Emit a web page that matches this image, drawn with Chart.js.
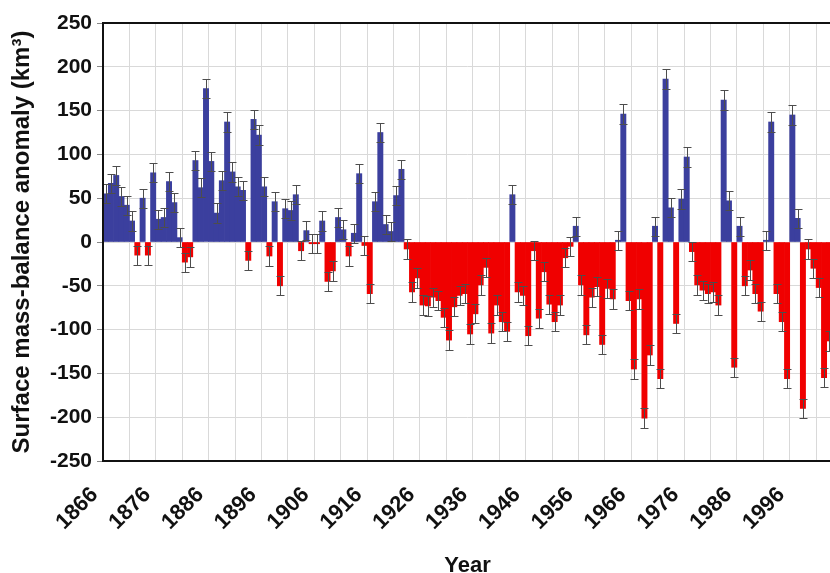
<!DOCTYPE html>
<html>
<head>
<meta charset="utf-8">
<script src="https://cdn.jsdelivr.net/npm/chart.js@4/dist/chart.umd.min.js"></script>
<style>
  html, body { margin: 0; padding: 0; background: #fff; overflow: hidden; }
  #wrap { width: 869px; height: 582px; }
</style>
</head>
<body>
<div id="wrap"><canvas id="massChart"></canvas></div>
<script>
// years 1866..2003 (the reference is cropped at 2003)
const startYear = 1866;
const anomaly = [
  55, 67, 76, 52, 42, 24, -15, 50, -15, 79,
  26, 28, 69, 45, 5, -23, -17, 93, 62, 175,
  92, 33, 70, 137, 80, 63, 59, -21, 140, 122,
  63, -16, 46, -50, 38, 36, 54, -10, 13, -2,
  -2, 24, -45, -33, 28, 14, -16, 10, 78, -4,
  -59, 46, 125, 20, 12, 53, 83, -8, -57, -41,
  -72, -73, -63, -67, -86, -112, -74, -61, -59, -105,
  -82, -49, -29, -104, -72, -91, -102, 54, -57, -61,
  -107, -10, -87, -34, -71, -91, -72, -18, -5, 18,
  -49, -106, -63, -51, -117, -53, -65, 2, 146, -67,
  -145, -65, -201, -129, 18, -156, 186, 39, -93, 49,
  97, -11, -49, -55, -59, -57, -72, 162, 47, -143,
  18, -50, -32, -59, -79, 2, 137, -59, -91, -156,
  145, 27, -190, -8, -30, -52, -155, -113
];
const errSize = 11;
const years = anomaly.map((v, i) => String(startYear + i));
const yTicks = [-250, -200, -150, -100, -50, 0, 50, 100, 150, 200, 250];

const BLUE = '#3b3f9e';
const RED = '#f00000';
const GRID = '#d9d9d9';
const FONT = "'Liberation Sans', Arial, sans-serif";

// error bars drawn on top of each bar
const errorBars = {
  id: 'errorBars',
  afterDatasetsDraw(chart) {
    const ctx = chart.ctx;
    const y = chart.scales.y;
    const meta = chart.getDatasetMeta(0);
    ctx.save();
    ctx.strokeStyle = '#4d4d4d';
    ctx.lineWidth = 1;
    meta.data.forEach((bar, i) => {
      const v = anomaly[i];
      const top = Math.round(y.getPixelForValue(v + errSize)) + 0.5;
      const bot = Math.round(y.getPixelForValue(v - errSize)) + 0.5;
      const x = Math.round(bar.x) + 0.5;
      ctx.beginPath();
      ctx.moveTo(x, top); ctx.lineTo(x, bot);
      ctx.moveTo(x - 4, top); ctx.lineTo(x + 4, top);
      ctx.moveTo(x - 4, bot); ctx.lineTo(x + 4, bot);
      ctx.stroke();
    });
    ctx.restore();
  }
};

// black frame round the plot area
const frame = {
  id: 'frame',
  afterDraw(chart) {
    const {ctx, chartArea: a} = chart;
    ctx.save();
    ctx.strokeStyle = '#111';
    ctx.lineWidth = 2;
    ctx.strokeRect(a.left, a.top, a.right - a.left, a.bottom - a.top);
    ctx.restore();
  }
};

new Chart(document.getElementById('massChart'), {
  type: 'bar',
  data: {
    labels: years,
    datasets: [{
      label: 'Surface mass-balance anomaly',
      data: anomaly,
      backgroundColor: anomaly.map(v => v >= 0 ? BLUE : RED),
      borderWidth: 0,
      barPercentage: 1,
      categoryPercentage: 1
    }]
  },
  options: {
    responsive: true,
    maintainAspectRatio: false,
    animation: false,
    layout: { padding: { top: 23, left: 0, right: 0, bottom: 0 } },
    plugins: {
      legend: { display: false },
      tooltip: { enabled: false }
    },
    scales: {
      x: {
        offset: true,
        grid: {
          offset: true,
          drawTicks: false,
          color: c => (c.index % 5 === 0 ? GRID : 'rgba(0,0,0,0)')
        },
        border: { display: false },
        ticks: {
          autoSkip: false,
          minRotation: 45,
          maxRotation: 45,
          padding: 21,
          labelOffset: -11,
          color: '#111',
          font: { family: FONT, size: 22, weight: 'bold' },
          callback: (v, i) => (i % 10 === 0 ? years[i] : '')
        },
        title: {
          display: true,
          text: 'Year',
          color: '#111',
          font: { family: FONT, size: 22, weight: 'bold' },
          padding: { top: 0, bottom: 3 }
        },
        afterFit: s => { s.height = 121; }
      },
      y: {
        min: -250,
        max: 250,
        afterBuildTicks: s => { s.ticks = yTicks.map(v => ({ value: v })); },
        grid: { color: GRID, tickColor: '#888', tickLength: 6 },
        border: { display: false },
        ticks: {
          padding: 5,
          color: '#111',
          font: { family: FONT, size: 21, weight: 'bold' }
        },
        title: {
          display: true,
          text: 'Surface mass-balance anomaly (km³)',
          color: '#111',
          font: { family: FONT, size: 24, weight: 'bold' },
          padding: { top: 8, bottom: 0 }
        },
        afterFit: s => { s.width = 103; }
      }
    }
  },
  plugins: [errorBars, frame]
});
</script>
</body>
</html>
